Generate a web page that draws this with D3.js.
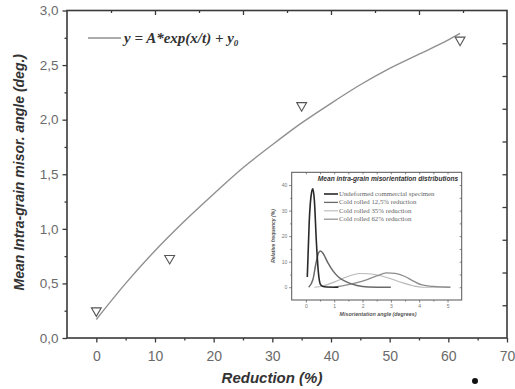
<!DOCTYPE html>
<html>
<head>
<meta charset="utf-8">
<script src="https://cdn.jsdelivr.net/npm/d3@7"></script>
<style>
  body { margin: 0; background: #fff; }
  svg { display: block; }
</style>
</head>
<body>
<svg id="chart" width="515" height="389"></svg>
<script>
// measured points (triangles)
const reduction = [0, 12.5, 35, 62];
const meanAngle = [0.25, 0.73, 2.13, 2.73];

// fitted curve
const fitX = [0, 5, 10, 15, 20, 25, 30, 35, 40, 45, 50, 55, 60, 62];
const fitY = [0.17, 0.50, 0.80, 1.07, 1.32, 1.56, 1.77, 1.97, 2.15, 2.32, 2.47, 2.60, 2.73, 2.79];

const xTicks = [0, 10, 20, 30, 40, 50, 60, 70];
const yTicks = [0, 0.5, 1, 1.5, 2, 2.5, 3];

// inset: misorientation distributions
const insetNames = ['Undeformed commercial specimen', 'Cold rolled 12,5% reduction', 'Cold rolled 35% reduction', 'Cold rolled 62% reduction'];
const undeformed = [[0.05, 4], [0.12, 26], [0.2, 37], [0.25, 38.5], [0.3, 34], [0.37, 18], [0.44, 6], [0.52, 1], [0.65, 0.2], [1.15, 0]];
const rolled125 = [[0.1, 0], [0.25, 3], [0.35, 9], [0.45, 13.5], [0.52, 14.2], [0.62, 13], [0.78, 9.5], [0.95, 6.5], [1.15, 4], [1.45, 2], [1.8, 0.7], [2.2, 0.1], [3, 0]];
const rolled35 = [[0.3, 0], [0.6, 0.5], [1.0, 2], [1.5, 4.3], [1.9, 5.4], [2.2, 5.3], [2.6, 4.6], [3.0, 3.3], [3.4, 1.8], [3.8, 0.5], [4.1, 0], [5.1, 0]];
const rolled62 = [[1.0, 0], [1.5, 1], [2.0, 2.4], [2.5, 4.4], [2.85, 5.6], [3.15, 5.4], [3.5, 4.2], [3.8, 2.4], [4.1, 0.9], [4.5, 0.3], [5.1, 0]];
const insetXTicks = [0, 1, 2, 3, 4, 5];
const insetYTicks = [0, 10, 20, 30, 40];

const svg = d3.select('#chart');
const axisColor = '#3a3a3a';
const labelColor = '#6a6a6a';

const mLeft = 67, mRight = 507, mTop = 10.5, mBottom = 338;
const x = d3.scaleLinear().domain([-5, 70]).range([mLeft, mRight]);
const y = d3.scaleLinear().domain([0, 3]).range([mBottom, mTop]);

const comma = d3.formatLocale({decimal: ',', thousands: '.', grouping: [3], currency: ['', '']}).format('.1f');

function styleAxis(g) {
  g.select('.domain').remove();
  g.selectAll('line').attr('stroke', axisColor).attr('stroke-width', 1.3);
  g.selectAll('text').attr('fill', labelColor);
}

// minor ticks
svg.append('g').attr('transform', `translate(0,${mBottom})`)
  .call(d3.axisBottom(x).tickValues(d3.range(5, 70, 10)).tickSize(2.5).tickFormat(''))
  .call(styleAxis);
svg.append('g').attr('transform', `translate(${mLeft},0)`)
  .call(d3.axisLeft(y).tickValues(d3.range(0.25, 3, 0.5)).tickSize(2.5).tickFormat(''))
  .call(styleAxis);

// major ticks with labels
svg.append('g').attr('transform', `translate(0,${mBottom})`)
  .call(d3.axisBottom(x).tickValues(xTicks).tickSize(4.5).tickPadding(9).tickFormat(d3.format('d')))
  .call(styleAxis)
  .style('font-family', 'Liberation Sans, Arial, sans-serif').style('font-size', '14px');
svg.append('g').attr('transform', `translate(${mLeft},0)`)
  .call(d3.axisLeft(y).tickValues(yTicks).tickSize(4.5).tickPadding(4).tickFormat(comma))
  .call(styleAxis)
  .style('font-family', 'Liberation Sans, Arial, sans-serif').style('font-size', '13.5px');

// top axis: ticks inward every 7.5
svg.append('g').attr('transform', `translate(0,${mTop})`)
  .call(d3.axisTop(x).tickValues([10, 25, 40, 55]).tickSize(-4.5).tickFormat(''))
  .call(styleAxis);
svg.append('g').attr('transform', `translate(0,${mTop})`)
  .call(d3.axisTop(x).tickValues([2.5, 17.5, 32.5, 47.5, 62.5]).tickSize(-2.5).tickFormat(''))
  .call(styleAxis);
// right axis: ticks inward every 0.3
svg.append('g').attr('transform', `translate(${mRight},0)`)
  .call(d3.axisRight(y).tickValues(d3.range(0.3, 2.95, 0.3)).tickSize(-4.5).tickFormat(''))
  .call(styleAxis);

// frame
svg.append('rect')
  .attr('x', mLeft).attr('y', mTop).attr('width', mRight - mLeft).attr('height', mBottom - mTop)
  .attr('fill', 'none').attr('stroke', axisColor).attr('stroke-width', 1.6);

// fit curve
const fitLine = d3.line().x(d => x(d[0])).y(d => y(d[1])).curve(d3.curveMonotoneX);
svg.append('path')
  .datum(fitX.map((v, i) => [v, fitY[i]]))
  .attr('d', fitLine)
  .attr('fill', 'none').attr('stroke', '#909090').attr('stroke-width', 1.4);

// triangles
svg.selectAll('.pt').data(reduction).enter().append('path')
  .attr('class', 'pt')
  .attr('transform', (d, i) => `translate(${x(d)},${y(meanAngle[i])}) rotate(180)`)
  .attr('d', d3.symbol(d3.symbolTriangle, 42))
  .attr('fill', 'none').attr('stroke', '#555').attr('stroke-width', 1.1);

// legend of fit
svg.append('line').attr('x1', 88).attr('x2', 121).attr('y1', 38).attr('y2', 38)
  .attr('stroke', '#909090').attr('stroke-width', 1.3);
const eq = svg.append('text').attr('x', 124).attr('y', 43)
  .style('font-family', 'Liberation Serif, Times New Roman, serif')
  .style('font-style', 'italic').style('font-weight', 'bold').style('font-size', '15px')
  .attr('fill', '#333');
eq.append('tspan').text('y = A*exp(x/t) + y');
eq.append('tspan').attr('dy', 3).style('font-size', '9px').text('0');

// axis titles
svg.append('text')
  .attr('transform', `translate(24,${(mTop + mBottom) / 2 - 2}) rotate(-90)`)
  .attr('text-anchor', 'middle')
  .style('font-family', 'Liberation Sans, Arial, sans-serif')
  .style('font-style', 'italic').style('font-weight', 'bold').style('font-size', '14px')
  .attr('fill', '#333')
  .text('Mean Intra-grain misor. angle (deg.)');
svg.append('text')
  .attr('x', 272).attr('y', 383)
  .attr('text-anchor', 'middle')
  .style('font-family', 'Liberation Sans, Arial, sans-serif')
  .style('font-style', 'italic').style('font-weight', 'bold').style('font-size', '15px')
  .attr('fill', '#333')
  .text('Reduction (%)');

// stray dot
svg.append('circle').attr('cx', 475).attr('cy', 381).attr('r', 3).attr('fill', '#111');

// ---------- inset ----------
const iL = 291.7, iR = 461.7, iT = 172.3, iB = 300;
const ix = d3.scaleLinear().domain([-0.5, 5.5]).range([iL, iR]);
const iy = d3.scaleLinear().domain([-5, 45]).range([iB, iT]);
const inset = svg.append('g');
const insetColor = '#666';

function styleInset(g) {
  g.select('.domain').remove();
  g.selectAll('line').attr('stroke', insetColor).attr('stroke-width', 0.8);
  g.selectAll('text').attr('fill', '#777');
}

inset.append('g').attr('transform', `translate(0,${iB})`)
  .call(d3.axisBottom(ix).tickValues(insetXTicks).tickSize(2.5).tickPadding(1.5).tickFormat(d3.format('d')))
  .call(styleInset).style('font-family', 'Liberation Sans, Arial, sans-serif').style('font-size', '5px');
inset.append('g').attr('transform', `translate(0,${iB})`)
  .call(d3.axisBottom(ix).tickValues(d3.range(0.5, 5.5, 1)).tickSize(1.5).tickFormat(''))
  .call(styleInset);
inset.append('g').attr('transform', `translate(${iL},0)`)
  .call(d3.axisLeft(iy).tickValues(insetYTicks).tickSize(2.5).tickPadding(2).tickFormat(d3.format('d')))
  .call(styleInset).style('font-family', 'Liberation Sans, Arial, sans-serif').style('font-size', '5px');
inset.append('g').attr('transform', `translate(${iL},0)`)
  .call(d3.axisLeft(iy).tickValues([5, 15, 25, 35]).tickSize(1.5).tickFormat(''))
  .call(styleInset);
inset.append('g').attr('transform', `translate(0,${iT})`)
  .call(d3.axisTop(ix).tickValues(d3.range(0, 5.5, 0.5)).tickSize(-2).tickFormat(''))
  .call(styleInset);
inset.append('g').attr('transform', `translate(${iR},0)`)
  .call(d3.axisRight(iy).tickValues(d3.range(0, 45, 5)).tickSize(-2).tickFormat(''))
  .call(styleInset);
inset.append('rect')
  .attr('x', iL).attr('y', iT).attr('width', iR - iL).attr('height', iB - iT)
  .attr('fill', 'none').attr('stroke', '#555').attr('stroke-width', 1);

const insetSeries = [
  {data: rolled35, color: '#b8b8b8', width: 1.1},
  {data: rolled62, color: '#8c8c8c', width: 1.3},
  {data: rolled125, color: '#6a6a6a', width: 1.5},
  {data: undeformed, color: '#2a2a2a', width: 1.6}
];
const iLine = d3.line().x(d => ix(d[0])).y(d => iy(d[1])).curve(d3.curveMonotoneX);
inset.selectAll('.dist').data(insetSeries).enter().append('path')
  .attr('class', 'dist')
  .attr('d', d => iLine(d.data))
  .attr('fill', 'none').attr('stroke', d => d.color).attr('stroke-width', d => d.width);

// inset title
inset.append('text').attr('x', 388).attr('y', 181).attr('text-anchor', 'middle')
  .style('font-family', 'Liberation Sans, Arial, sans-serif')
  .style('font-style', 'italic').style('font-weight', 'bold').style('font-size', '6.6px')
  .attr('fill', '#333')
  .text('Mean intra-grain misorientation distributions');

// inset legend
const legendColors = ['#2a2a2a', '#6a6a6a', '#b8b8b8', '#8c8c8c'];
const legendWidths = [1.6, 1.3, 1.1, 1.2];
const rows = inset.selectAll('.lg').data(insetNames).enter().append('g')
  .attr('class', 'lg')
  .attr('transform', (d, i) => `translate(324,${194 + i * 8.4})`);
rows.append('line').attr('x1', 0).attr('x2', 14)
  .attr('stroke', (d, i) => legendColors[i]).attr('stroke-width', (d, i) => legendWidths[i]);
rows.append('text').attr('x', 15).attr('y', 2)
  .style('font-family', 'Liberation Serif, Times New Roman, serif').style('font-size', '6.8px')
  .attr('fill', '#666')
  .text(d => d);

// inset axis titles
inset.append('text')
  .attr('transform', `translate(275,236) rotate(-90)`)
  .attr('text-anchor', 'middle')
  .style('font-family', 'Liberation Sans, Arial, sans-serif')
  .style('font-style', 'italic').style('font-weight', 'bold').style('font-size', '5px')
  .attr('fill', '#555')
  .text('Relative frequency (%)');
inset.append('text')
  .attr('x', 378).attr('y', 316).attr('text-anchor', 'middle')
  .style('font-family', 'Liberation Sans, Arial, sans-serif')
  .style('font-style', 'italic').style('font-weight', 'bold').style('font-size', '5.3px')
  .attr('fill', '#555')
  .text('Misorientation angle (degrees)');
</script>
</body>
</html>
